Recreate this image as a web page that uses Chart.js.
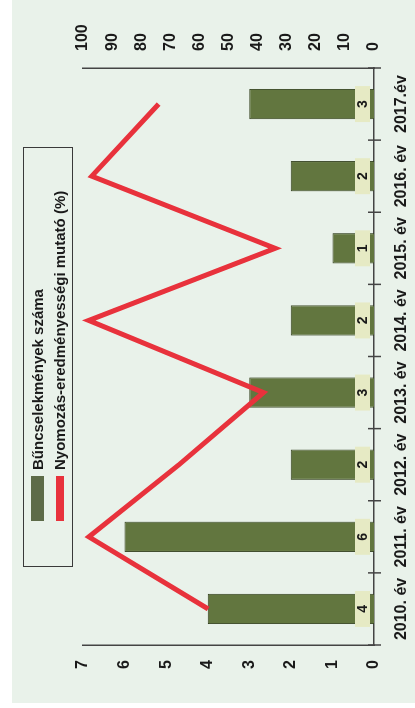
<!DOCTYPE html>
<html>
<head>
<meta charset="utf-8">
<script src="https://cdn.jsdelivr.net/npm/chart.js@4.4.1/dist/chart.umd.min.js"></script>
<style>
  html, body { margin: 0; padding: 0; background: #fff; width: 415px; height: 708px; overflow: hidden; }
  /* the chart is photographed turned a quarter turn, so draw it flat and rotate the whole thing */
  #rot { position: absolute; left: 0; top: 0; width: 708px; height: 415px;
         transform-origin: 0 0; transform: translateY(708px) rotate(-90deg); }
  #bg { position: absolute; left: 5px; top: 12px; width: 703px; height: 403px; background: #e9f2ea; }
  #c { position: absolute; left: 0; top: 0; }
  #legend { position: absolute; left: 141px; top: 23px; width: 418px; height: 48px;
            border: 1.5px solid #3a3a3a; font: bold 15px "Liberation Sans", Arial, sans-serif; color: #1a1a1a; }
  .sw { position: absolute; left: 45px; width: 45px; }
  .txt { position: absolute; left: 96px; white-space: nowrap; line-height: 16px; }
</style>
</head>
<body>
<div id="rot">
  <div id="bg"></div>
  <canvas id="c" width="708" height="415"></canvas>
  <div id="legend">
    <div class="sw" style="top:7px;height:13px;background:#5d6b48;"></div>
    <div class="txt" style="top:6px;">Bűncselekmények száma</div>
    <div class="sw" style="top:32px;height:8px;background:#e8323c;"></div>
    <div class="txt" style="top:28px;">Nyomozás-eredményességi mutató (%)</div>
  </div>
</div>
<script>
// data
var years = ['2010. év', '2011. év', '2012. év', '2013. év', '2014. év', '2015. év', '2016. év', '2017.év'];
var crimes = [4, 6, 2, 3, 2, 1, 2, 3];
var rate = [57, 98, 67, 38, 98, 34, 97, 74];
var countMax = 7;
var rateMax = 100;

Chart.defaults.font.family = '"Liberation Sans", Arial, sans-serif';

var tickFont = { size: 16, weight: 'bold' };

// little cross ticks between the categories
var crossTicks = {
  id: 'crossTicks',
  afterDraw: function(chart) {
    var xs = chart.scales.x, ctx = chart.ctx, y = xs.top;
    ctx.save();
    ctx.strokeStyle = '#444';
    ctx.lineWidth = 1.5;
    for (var i = 0; i <= years.length; i++) {
      var px = xs.getPixelForValue(i - 0.5);
      ctx.beginPath();
      ctx.moveTo(px, y - 6);
      ctx.lineTo(px, y + 7);
      ctx.stroke();
    }
    ctx.restore();
  }
};

// value labels sitting on the base of each bar
var barLabels = {
  id: 'barLabels',
  afterDatasetsDraw: function(chart) {
    var meta = chart.getDatasetMeta(0), ctx = chart.ctx;
    ctx.save();
    ctx.font = 'bold 14px "Liberation Sans", Arial, sans-serif';
    ctx.textAlign = 'center';
    ctx.textBaseline = 'middle';
    meta.data.forEach(function(bar, i) {
      var bw = 36, bh = 15;
      var top = bar.base - 4 - bh;
      ctx.fillStyle = '#e6eac4';
      ctx.fillRect(bar.x - bw / 2, top, bw, bh);
      ctx.fillStyle = '#1a1a1a';
      ctx.fillText(String(crimes[i]), bar.x, top + bh / 2 + 1);
    });
    ctx.restore();
  }
};

new Chart(document.getElementById('c'), {
  data: {
    labels: years,
    datasets: [{
      type: 'bar',
      label: 'Bűncselekmények száma',
      data: crimes,
      backgroundColor: '#62763f',
      borderColor: '#34421f',
      borderWidth: 1,
      barPercentage: 0.42,
      categoryPercentage: 1,
      yAxisID: 'y',
      order: 1
    }, {
      type: 'line',
      label: 'Nyomozás-eredményességi mutató (%)',
      data: rate,
      borderColor: '#e8323c',
      borderWidth: 5,
      borderJoinStyle: 'miter',
      pointRadius: 0,
      tension: 0,
      clip: false,
      yAxisID: 'y1',
      order: 0
    }]
  },
  options: {
    responsive: false,
    animation: false,
    devicePixelRatio: 1,
    layout: { padding: { top: 83, left: 0, right: 0, bottom: 0 } },
    plugins: { legend: { display: false }, tooltip: { enabled: false } },
    scales: {
      x: {
        grid: { display: false, drawTicks: false },
        border: { display: true, color: '#444', width: 1.5 },
        ticks: { font: tickFont, color: '#1a1a1a', padding: 18, maxRotation: 0, autoSkip: false },
        afterFit: function(s) { s.height = 41; }
      },
      y: {
        position: 'left', min: 0, max: countMax,
        grid: { display: false, drawTicks: false },
        border: { display: true, color: '#444', width: 1.5 },
        ticks: { stepSize: 1, font: tickFont, color: '#1a1a1a', padding: 15 },
        afterFit: function(s) { s.width = 63; }
      },
      y1: {
        position: 'right', min: 0, max: rateMax,
        grid: { display: false, drawTicks: false },
        border: { display: true, color: '#444', width: 1.5 },
        ticks: { stepSize: 10, font: tickFont, color: '#1a1a1a', padding: 17 },
        afterFit: function(s) { s.width = 68; }
      }
    }
  },
  plugins: [crossTicks, barLabels]
});
</script>
</body>
</html>
